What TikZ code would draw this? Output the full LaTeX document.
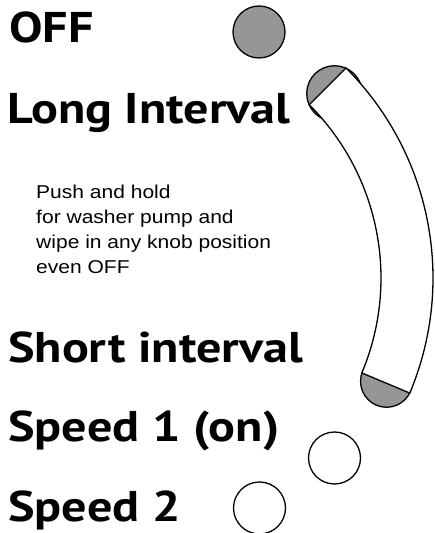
\documentclass[tikz,border=0pt]{standalone}
\usepackage{fontspec}
\setmainfont{Liberation Sans}
\newfontfamily\labelfont{PT Sans}
\usetikzlibrary{calc}
\definecolor{knobgray}{RGB}{150,150,150}
\tikzset{
  knob/.style={circle, draw, line width=1.3pt, minimum size=52pt, inner sep=0pt},
  position/.style={anchor=base west, inner sep=0pt, xscale=1.165, font=\labelfont\bfseries\fontsize{43}{48}\selectfont},
  note/.style={anchor=base west, inner sep=0pt, xscale=1.13, font=\fontsize{18.6}{25}\selectfont}
}

\begin{document}
\begin{tikzpicture}[x=1pt, y=1pt]
        \useasboundingbox (0,0) rectangle (434,533);
        \coordinate (hub) at (136,255);
        % Knob positions
        \node[knob, fill=knobgray] (off) at (259,501) {};
        \node[knob, fill=knobgray, minimum size=55.6pt] (longpos) at ($(hub)+(42.9:271)$) {};
        \node[knob, fill=knobgray] (shortpos) at ($(hub)+(-22.4:271)$) {};
        \node[knob] (speedone) at (334.5,75) {};
        \node[knob] (speedtwo) at (259.5,25) {};
        % Interval band
        \draw[line width=1.3pt, fill=white] ($(hub)+(45:297)$) arc[start angle=45, end angle=-22.8, radius=297]
            -- ($(hub)+(-22.8:245)$) arc[start angle=-22.8, end angle=45, radius=245] -- cycle;
        % Labels
        \node[position] (offlabel) at (9,490.3) {OFF};
        \node[position] (longlabel) at (7,409.7) {Long Interval};
        \node[position] (shortlabel) at (8,170.3) {Short interval};
        \node[position] (onelabel) at (8,91.3) {Speed 1 (on)};
        \node[position] (twolabel) at (8,11.3) {Speed 2};
        % Washer note
        \node[note] (noteone) at (36,334.3) {Push and hold};
        \node[note] (notetwo) at (36,309.3) {for washer pump and};
        \node[note] (notethree) at (36,284.3) {wipe in any knob position};
        \node[note] (notefour) at (36,259.3) {even OFF};
    \end{tikzpicture}
\end{document}
